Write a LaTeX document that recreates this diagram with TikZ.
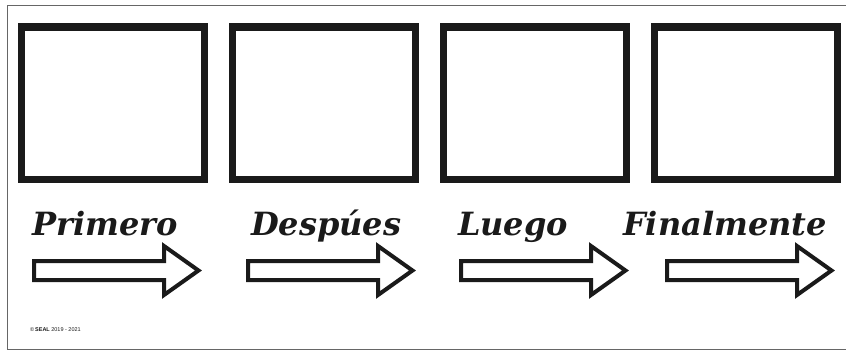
\documentclass[tikz,border=0pt]{standalone}
\usepackage{fontspec}
\setmainfont{DejaVu Serif}
\setsansfont{Liberation Sans}
\usepackage{tikz}

\definecolor{ink}{HTML}{1A1A1A}
\definecolor{rim}{HTML}{666666}

\tikzset{
  framebox/.style={draw=ink, line width=7.5pt, minimum width=183pt,
                   minimum height=152.5pt, inner sep=0pt, outer sep=0pt,
                   anchor=north west},
  steplabel/.style={anchor=base west, inner sep=0pt, text=ink,
                    font=\fontsize{32}{37}\selectfont\bfseries\itshape},
  hollowarrow/.style={draw=ink, line width=4pt, line join=miter, fill=white},
}

\begin{document}
\begin{tikzpicture}[x=1pt, y=-1pt]
  \useasboundingbox (0,0) rectangle (846,350);

  % page frame
  \coordinate (FL) at (7.3,349);
  \coordinate (TL) at (7.3,5.3);
  \coordinate (TR) at (850,5.3);
  \coordinate (BR) at (850,349);
  \draw [rim, line width=1pt] (BR) -- (FL) -- (TL) -- (TR);

  % empty picture boxes
  \foreach \i/\x in {1/21.5, 2/232.5, 3/443.5, 4/654.5}
    \node [framebox] (box\i) at (\x,27) {};

  % step words
  \node [steplabel] (lab1) at (32,235)  {Primero};
  \node [steplabel] (lab2) at (251,235) {Despúes};
  \node [steplabel] (lab3) at (458,235) {Luego};
  \node [steplabel] (lab4) at (623,235) {Finalmente};

  % outlined arrows
  \foreach \i/\x in {1/34, 2/248, 3/461, 4/667} {
    \coordinate (arr\i) at (\x,270.5);
    \draw [hollowarrow] (arr\i) ++(0,-9.5) -- ++(130,0) -- ++(0,-15)
      -- ++(34.5,24.5) -- ++(-34.5,24.5) -- ++(0,-15) -- ++(-130,0) -- cycle;
  }

  \node [anchor=base west, inner sep=0pt, text=ink,
         font=\sffamily\fontsize{5.5}{6}\selectfont] (copy) at (30,331)
    {\textcopyright\,\textbf{SEAL} 2019 - 2021};
\end{tikzpicture}
\end{document}
